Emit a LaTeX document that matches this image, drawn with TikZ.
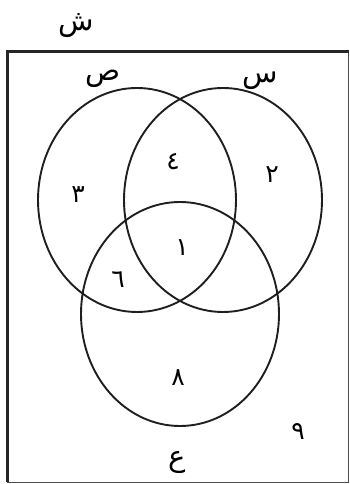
\documentclass[tikz,border=0pt]{standalone}
\usepackage{fontspec}
\newfontfamily\arabicfont[Script=Arabic]{DejaVu Sans}
\TeXXeTstate=1
\begin{document}
\begin{tikzpicture}[x=1pt,y=1pt,
  setcurve/.style={line width=1.9pt, draw=black!88},
  letter/.style={font=\arabicfont\fontsize{29}{29}\selectfont, inner sep=0pt},
  num/.style={font=\arabicfont\fontsize{25}{25}\selectfont, inner sep=0pt}]
\useasboundingbox (0,0) rectangle (350,484);
% frame
\draw[line width=0.8pt, draw=black!70] (7,432) rectangle (348,2);
\draw[line width=3pt, draw=black!85] (7,2) -- (7,432) -- (349,432);
% sets
\draw[setcurve] (137,284) ellipse [x radius=99pt, y radius=112pt];
\draw[setcurve] (223,284) ellipse [x radius=99pt, y radius=112pt];
\draw[setcurve] (180,170) ellipse [x radius=99pt, y radius=112pt];
% labels
\node[letter] (U) at (76,458) {\beginR ش\endR};
\node[letter] (Y) at (103,405) {\beginR ص\endR};
\node[letter] (X) at (260,403) {\beginR س\endR};
\node[letter] (Z) at (177,22) {\beginR ع\endR};
% numbers
\node[num] (n3) at (78,289) {\beginR ٣\endR};
\node[num] (n4) at (173,322) {\beginR ٤\endR};
\node[num] (n2) at (272,309) {\beginR ٢\endR};
\node[num] (n1) at (182,236) {\beginR ١\endR};
\node[num] (n6) at (118,204) {\beginR ٦\endR};
\node[num] (n8) at (178,106) {\beginR ٨\endR};
\node[num] (n9) at (298,52) {\beginR ٩\endR};
\end{tikzpicture}
\end{document}
